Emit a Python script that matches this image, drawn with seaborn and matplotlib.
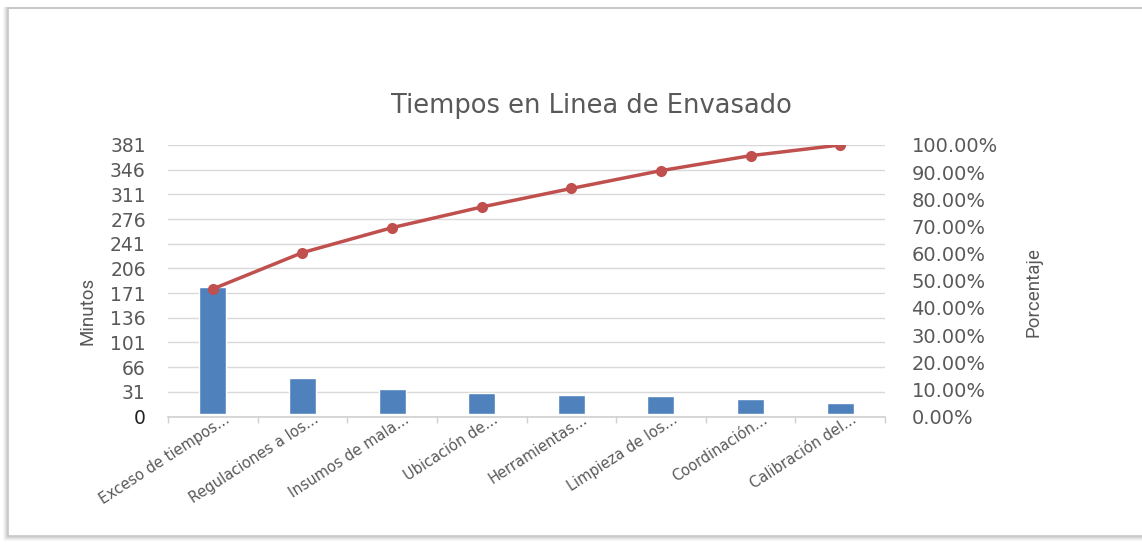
import matplotlib
matplotlib.use("Agg")
import matplotlib.pyplot as plt
import seaborn as sns
import numpy as np
import pandas as pd
from matplotlib.patches import Rectangle
from matplotlib.ticker import FixedLocator

# Pareto data: downtime causes on the bottling line (minutes)
causas = [
    "Exceso de tiempos...",
    "Regulaciones a los...",
    "Insumos de mala...",
    "Ubicación de...",
    "Herramientas...",
    "Limpieza de los...",
    "Coordinación...",
    "Calibración del...",
]
minutos = [179, 51, 35, 29, 26, 25, 21, 15]
ticks_minutos = [-4, 31, 66, 101, 136, 171, 206, 241, 276, 311, 346, 381]
etiquetas_minutos = ["0", "31", "66", "101", "136", "171", "206", "241",
                     "276", "311", "346", "381"]
ticks_pct = [0.0, 0.1, 0.2, 0.3, 0.4, 0.5, 0.6, 0.7, 0.8, 0.9, 1.0]

df = pd.DataFrame({"causa": causas, "minutos": minutos})
df["acumulado"] = df["minutos"].cumsum() / df["minutos"].sum()
df["pos"] = np.arange(len(df))

sns.set_theme(style="white")
plt.rcParams["font.family"] = ["DejaVu Sans"]

GRAY = "#595959"
BLUE = "#4f81bd"
RED = "#c0504d"
NARROW = ["Liberation Sans Narrow", "Roboto", "DejaVu Sans"]

fig = plt.figure(figsize=(11.42, 5.44), dpi=100)
fig.patch.set_facecolor("white")

# soft frame around the chart area
for i, c in enumerate(["#f6f6f6", "#ececec", "#e0e0e0", "#d2d2d2", "#c6c6c6"]):
    fig.patches.append(Rectangle((4 + i * 1.0, 4 + i * 1.0), 1200, 532 - i * 1.0,
                                 transform=None, fill=False, edgecolor=c,
                                 linewidth=1.2, zorder=0))

ax = fig.add_axes([168 / 1142, 1 - 416.5 / 544, (885 - 168) / 1142, (416.5 - 145) / 544])
ax.set_facecolor("none")

sns.barplot(data=df, x="pos", y="minutos", color=BLUE, width=0.3,
            native_scale=True, ax=ax, zorder=3, saturation=1)
ax.set_xlim(-0.5, len(df) - 0.5)
ax.set_ylim(-4, 381)
ax.set_yticks(ticks_minutos)
ax.set_yticklabels(etiquetas_minutos)
# category labels end just right of each bar centre
ax.set_xticks(df["pos"] + 0.17)
ax.set_xticklabels(causas, rotation=33, ha="right", va="center",
                   rotation_mode="anchor")
ax.xaxis.set_minor_locator(FixedLocator(np.arange(-0.5, len(df), 1.0)))
ax.tick_params(axis="x", which="major", length=0, pad=1, labelsize=10.5, labelcolor=GRAY)
ax.tick_params(axis="x", which="minor", length=4, color="#d0d0d0", width=1, bottom=True)
ax.tick_params(axis="y", length=0, pad=16, labelsize=13.5, labelcolor=GRAY)
ax.get_yticklabels()[0].set_color("#222222")
ax.yaxis.grid(True, color="#d9d9d9", linewidth=1)
ax.set_axisbelow(True)
for s in ["top", "right", "left"]:
    ax.spines[s].set_visible(False)
ax.spines["bottom"].set_color("#d0d0d0")
ax.spines["bottom"].set_linewidth(1.2)
ax.set_xlabel("")
ax.set_ylabel("Minutos", fontsize=13.5, color=GRAY, family=NARROW)
ax.yaxis.set_label_coords(-0.10, 0.39)

ax2 = ax.twinx()
sns.lineplot(data=df, x="pos", y="acumulado", color=RED, linewidth=2.5,
             marker="o", markersize=8, markeredgewidth=0, ax=ax2, zorder=5)
ax2.set_ylim(0, 1)
ax2.set_yticks(ticks_pct)
ax2.set_yticklabels([f"{v * 100:.2f}%" for v in ticks_pct])
ax2.tick_params(axis="y", length=0, pad=19, labelsize=14, labelcolor=GRAY)
for s in ["top", "right", "left", "bottom"]:
    ax2.spines[s].set_visible(False)
ax2.set_ylabel("Porcentaje", fontsize=13.5, color=GRAY, family=NARROW)
ax2.yaxis.set_label_coords(1.195, 0.46)
ax2.set_xlim(-0.5, len(df) - 0.5)

fig.text(591 / 1142, 1 - 106 / 544, "Tiempos en Linea de Envasado",
         ha="center", va="center", fontsize=18.5, color=GRAY)

fig.savefig("out.png", dpi=100, facecolor="white")
